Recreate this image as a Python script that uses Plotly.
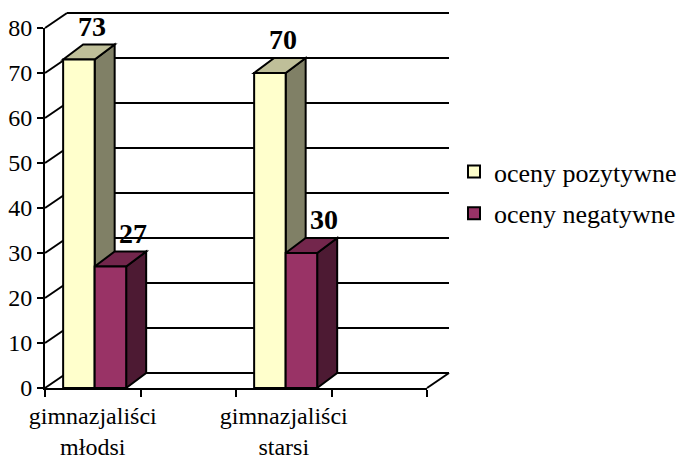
import plotly.graph_objects as go

# ---- data ----
categories = ["gimnazjaliści<br>młodsi", "gimnazjaliści<br>starsi"]
series_names = ["oceny pozytywne", "oceny negatywne"]
pozytywne = [73, 70]
negatywne = [27, 30]
y_ticks = [0, 10, 20, 30, 40, 50, 60, 70, 80]

# ---- styling / geometry ----
W, H = 676, 462
X0_PX, Y0_PX = 45, 388          # origin of the front plane in pixels
PX_PER_CAT, PX_PER_UNIT = 95.5, 4.5
N_SLOTS = 4                     # two categories, each followed by an empty slot
WALL_DX, WALL_DY = 22 / PX_PER_CAT, 15 / PX_PER_UNIT
BAR_DX, BAR_DY = 20 / PX_PER_CAT, 15 / PX_PER_UNIT
BAR_W = 0.33
OFFSETS = [-0.31, 0.02]
LABEL_SHIFT = [0.65, 1.15]      # label x-shift, in units of bar depth
FRONT = ["#FFFFCC", "#993366"]
TOP = ["#BFBF99", "#73264C"]
SIDE = ["#808066", "#4D1A33"]
FONT = "Liberation Serif"

x_centers = [2 * i + 0.5 for i in range(len(categories))]
values = [pozytywne, negatywne]

fig = go.Figure()
shapes = []
line_k = dict(color="black", width=2)

# back wall gridlines and left-wall diagonals
for v in y_ticks:
    shapes.append(dict(type="line", xref="x", yref="y", layer="below",
                       x0=WALL_DX, y0=v + WALL_DY, x1=N_SLOTS + WALL_DX, y1=v + WALL_DY, line=line_k))
    shapes.append(dict(type="line", xref="x", yref="y", layer="below",
                       x0=0, y0=v, x1=WALL_DX, y1=v + WALL_DY, line=line_k))
# floor right diagonal
shapes.append(dict(type="line", xref="x", yref="y", layer="below",
                   x0=N_SLOTS, y0=0, x1=N_SLOTS + WALL_DX, y1=WALL_DY, line=line_k))

annotations = []
for s, (name, vals) in enumerate(zip(series_names, values)):
    for xc, v in zip(x_centers, vals):
        xl = xc + OFFSETS[s]
        xr = xl + BAR_W
        side = f"M{xr},0 L{xr + BAR_DX},{BAR_DY} L{xr + BAR_DX},{v + BAR_DY} L{xr},{v} Z"
        top = f"M{xl},{v} L{xl + BAR_DX},{v + BAR_DY} L{xr + BAR_DX},{v + BAR_DY} L{xr},{v} Z"
        shapes.append(dict(type="path", xref="x", yref="y", layer="below", path=side,
                           fillcolor=SIDE[s], line=dict(color="black", width=2)))
        shapes.append(dict(type="path", xref="x", yref="y", layer="below", path=top,
                           fillcolor=TOP[s], line=dict(color="black", width=2)))
        annotations.append(dict(x=xl + BAR_W / 2 + BAR_DX * LABEL_SHIFT[s], y=v + BAR_DY,
                                xref="x", yref="y",
                                text=f"<b>{v}</b>", showarrow=False, yanchor="bottom", yshift=1,
                                font=dict(family=FONT, size=28, color="black")))
    fig.add_trace(go.Bar(
        x=x_centers, y=vals, name=name, width=BAR_W, offset=OFFSETS[s],
        marker=dict(color=FRONT[s], line=dict(color="black", width=2)),
        legendgroup=name, hoverinfo="skip"))

# dummy trace for the axis overlay subplot
fig.add_trace(go.Scatter(x=[None], y=[None], xaxis="x2", yaxis="y2",
                         showlegend=False, hoverinfo="skip"))

fig.update_layout(
    width=W, height=H,
    margin=dict(l=0, r=0, t=0, b=0, autoexpand=False),
    paper_bgcolor="white", plot_bgcolor="rgba(0,0,0,0)",
    barmode="overlay",
    shapes=shapes,
    annotations=annotations,
    showlegend=True,
    legend=dict(x=454 / W, y=1 - 148 / H, xanchor="left", yanchor="top",
                font=dict(family=FONT, size=26, color="black"),
                traceorder="grouped", tracegroupgap=5, bgcolor="rgba(0,0,0,0)"),
    xaxis=dict(domain=[0, 1], range=[-X0_PX / PX_PER_CAT, (W - X0_PX) / PX_PER_CAT],
               visible=False, fixedrange=True, automargin=False),
    yaxis=dict(domain=[0, 1], range=[(Y0_PX - H) / PX_PER_UNIT, Y0_PX / PX_PER_UNIT],
               visible=False, fixedrange=True, automargin=False),
    xaxis2=dict(domain=[X0_PX / W, (X0_PX + N_SLOTS * PX_PER_CAT) / W], range=[0, N_SLOTS],
                anchor="y2", showline=True, linecolor="black", linewidth=2,
                showgrid=False, zeroline=False, automargin=False,
                tickmode="array", tickvals=x_centers, ticktext=categories, ticks="",
                ticklabelstandoff=5,
                tickfont=dict(family=FONT, size=24, color="black"),
                minor=dict(tickmode="array", tickvals=list(range(N_SLOTS + 1)), ticks="outside",
                           ticklen=7, tickwidth=2, tickcolor="black", showgrid=False),
                fixedrange=True),
    yaxis2=dict(domain=[(H - Y0_PX) / H, (H - Y0_PX + 80 * PX_PER_UNIT) / H], range=[0, 80],
                anchor="x2", showline=True, linecolor="black", linewidth=2,
                showgrid=False, zeroline=False, automargin=False,
                tickmode="array", tickvals=y_ticks, ticks="outside", ticklen=6, tickwidth=2,
                tickcolor="black", tickfont=dict(family=FONT, size=24, color="black"),
                fixedrange=True),
)

fig.write_html("out.html", config={"displayModeBar": False},
               post_script="document.body.style.margin='0';")
